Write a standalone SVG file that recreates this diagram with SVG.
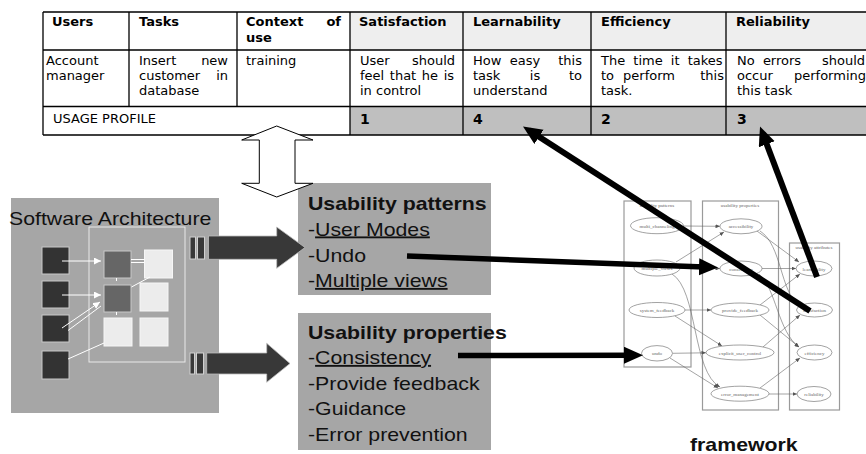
<svg xmlns="http://www.w3.org/2000/svg" width="866" height="454" viewBox="0 0 866 454">
<defs>
<style>
.t{font-family:"DejaVu Sans",Verdana,sans-serif;font-size:13px;fill:#000}
.tb{font-family:"DejaVu Sans",Verdana,sans-serif;font-size:13px;font-weight:bold;fill:#000}
.num{font-family:"DejaVu Sans",Verdana,sans-serif;font-size:14px;font-weight:bold;fill:#000}
.tl{stroke:#000;stroke-width:1.3;fill:none}
.big{font-family:"Liberation Sans",Arial,sans-serif;font-size:18.6px;fill:#111}
.bigb{font-family:"Liberation Sans",Arial,sans-serif;font-size:18.6px;font-weight:bold;fill:#111}
.gbox{fill:#a6a6a6}
.dk{fill:#333;stroke:#c8c8c8;stroke-width:1}
.md{fill:#666;stroke:#c8c8c8;stroke-width:1}
.lt{fill:#ececec;stroke:#f6f6f6;stroke-width:1}
.wl{stroke:#fff;stroke-width:1;fill:none}
.bar{fill:#383838;stroke:#d0d0d0;stroke-width:1}
.fat{fill:#383838;stroke:#bdbdbd;stroke-width:0.8}
.blk{stroke:#000;fill:none}
.cl{fill:#fff;stroke:#9a9a9a;stroke-width:1.2}
.nd{fill:#fff;stroke:#7a7a7a;stroke-width:0.7}
.ed{stroke:#666;stroke-width:0.6;fill:none}
.nt{font-family:"Liberation Serif","Times New Roman",serif;font-size:5px;fill:#666;text-anchor:middle}
</style>
<marker id="ah" markerUnits="userSpaceOnUse" markerWidth="20" markerHeight="18" refX="12" refY="8.5" orient="auto">
<path d="M0,0 L19,8.5 L0,17 z" fill="#000"/>
</marker>
<marker id="wa" markerUnits="userSpaceOnUse" markerWidth="8" markerHeight="8" refX="7" refY="3.5" orient="auto">
<path d="M0,0 L7,3.5 L0,7 z" fill="#fff"/>
</marker>
<marker id="ga" markerUnits="userSpaceOnUse" markerWidth="5" markerHeight="4" refX="4.5" refY="2" orient="auto">
<path d="M0,0 L4.5,2 L0,4 z" fill="#555"/>
</marker>
</defs>
<rect width="866" height="454" fill="#fff"/>

<g id="usage-table">
<rect x="350" y="12" width="520" height="38" fill="#eeeeee"/>
<rect x="350" y="106.5" width="520" height="28.5" fill="#bfbfbf"/>
<path class="tl" d="M43,12 H870 M43,50 H870 M43,106.5 H870 M43,135 H870 M43,12 V135 M129,12 V106.5 M237,12 V106.5 M350,12 V135 M463,12 V135 M591,12 V135 M726,12 V135"/>
<text class="tb" x="52" y="26">Users</text>
<text class="tb" x="139" y="26">Tasks</text>
<text class="tb" x="246" y="26">Context</text>
<text class="tb" x="341" y="26" text-anchor="end">of</text>
<text class="tb" x="246" y="41.5">use</text>
<text class="tb" x="359" y="26">Satisfaction</text>
<text class="tb" x="473" y="26">Learnability</text>
<text class="tb" x="601" y="26">Efficiency</text>
<text class="tb" x="736" y="26">Reliability</text>

<text class="t" x="46" y="65">Account</text>
<text class="t" x="46" y="80">manager</text>
<text class="t" x="139" y="65">Insert</text>
<text class="t" x="228" y="65" text-anchor="end">new</text>
<text class="t" x="139" y="80">customer</text>
<text class="t" x="228" y="80" text-anchor="end">in</text>
<text class="t" x="139" y="95">database</text>
<text class="t" x="246" y="65">training</text>
<text class="t" x="360" y="65">User</text>
<text class="t" x="455" y="65" text-anchor="end">should</text>
<text class="t" x="360" y="80" word-spacing="1.5">feel that he is</text>
<text class="t" x="360" y="95">in control</text>
<text class="t" x="473" y="65">How</text>
<text class="t" x="525" y="65" text-anchor="middle">easy</text>
<text class="t" x="582" y="65" text-anchor="end">this</text>
<text class="t" x="473" y="80">task</text>
<text class="t" x="535" y="80" text-anchor="middle">is</text>
<text class="t" x="582" y="80" text-anchor="end">to</text>
<text class="t" x="473" y="95">understand</text>
<text class="t" x="601" y="65" word-spacing="4">The time it takes</text>
<text class="t" x="601" y="80">to</text>
<text class="t" x="649" y="80" text-anchor="middle">perform</text>
<text class="t" x="724" y="80" text-anchor="end">this</text>
<text class="t" x="601" y="95">task.</text>
<text class="t" x="737" y="65">No</text>
<text class="t" x="782" y="65" text-anchor="middle">errors</text>
<text class="t" x="865" y="65" text-anchor="end">should</text>
<text class="t" x="737" y="80">occur</text>
<text class="t" x="866" y="80" text-anchor="end">performing</text>
<text class="t" x="737" y="95">this task</text>

<text class="t" x="53" y="123">USAGE PROFILE</text>
<text class="num" x="360" y="124">1</text>
<text class="num" x="473" y="124">4</text>
<text class="num" x="601" y="124">2</text>
<text class="num" x="737" y="124">3</text>
</g>

<g id="software-architecture">
<rect class="gbox" x="11" y="198" width="208" height="215"/>
<text class="big" transform="translate(9 225) scale(1.145 1)">Software Architecture</text>
<rect x="89" y="227" width="96" height="135" fill="none" stroke="#e8e8e8" stroke-width="1"/>
<rect class="dk" x="42" y="247" width="27" height="27"/>
<rect class="dk" x="42" y="281" width="27" height="27"/>
<rect class="dk" x="42" y="315" width="27" height="27"/>
<rect class="dk" x="42" y="351" width="27" height="28"/>
<rect class="md" x="104" y="251" width="27" height="27"/>
<rect class="md" x="104" y="285" width="27" height="27"/>
<rect class="lt" x="144.5" y="250" width="28" height="28"/>
<rect class="lt" x="140" y="283" width="28" height="28"/>
<rect class="lt" x="104" y="318" width="28" height="28"/>
<rect class="lt" x="140" y="318" width="28" height="28"/>
<line class="wl" x1="62" y1="261" x2="101" y2="261" marker-end="url(#wa)"/>
<line class="wl" x1="62" y1="295" x2="101" y2="295" marker-end="url(#wa)"/>
<line class="wl" x1="62" y1="328" x2="100" y2="302" marker-end="url(#wa)"/>
<line class="wl" x1="68" y1="330.5" x2="101" y2="306"/>
<line class="wl" x1="68" y1="359" x2="104" y2="343"/>
<line class="wl" x1="131" y1="259.5" x2="144.5" y2="259.5"/>
<line class="wl" x1="131" y1="262.5" x2="144.5" y2="262.5"/>
<line class="wl" x1="131.5" y1="287" x2="150" y2="277"/>
<line class="wl" x1="116.5" y1="278" x2="116.5" y2="281"/>
<line class="wl" x1="116.5" y1="312" x2="116.5" y2="315"/>
</g>

<g id="usability-patterns">
<rect class="gbox" x="298" y="183" width="193" height="112"/>
<text class="bigb" transform="translate(308 209.5) scale(1.145 1)">Usability patterns</text>
<text class="big" transform="translate(308 235.5) scale(1.145 1)">-<tspan text-decoration="underline">User Modes</tspan></text>
<text class="big" transform="translate(308 261.5) scale(1.145 1)">-Undo</text>
<text class="big" transform="translate(308 287) scale(1.145 1)">-<tspan text-decoration="underline">Multiple views</tspan></text>
</g>

<g id="usability-properties">
<rect class="gbox" x="298" y="313" width="193" height="137"/>
<text class="bigb" transform="translate(308 338.5) scale(1.145 1)">Usability properties</text>
<text class="big" transform="translate(308 364) scale(1.145 1)">-<tspan text-decoration="underline">Consistency</tspan></text>
<text class="big" transform="translate(308 389.5) scale(1.145 1)">-Provide feedback</text>
<text class="big" transform="translate(308 415) scale(1.145 1)">-Guidance</text>
<text class="big" transform="translate(308 440.5) scale(1.145 1)">-Error prevention</text>
</g>

<g id="framework">
<rect class="cl" x="624" y="201" width="67" height="166"/>
<rect class="cl" x="702.5" y="201" width="76" height="209"/>
<rect class="cl" x="789.5" y="243" width="50" height="167"/>
<text class="nt" x="657" y="207">usability patterns</text>
<text class="nt" x="740" y="207">usability properties</text>
<text class="nt" x="814" y="249">usability attributes</text>
<g id="fw-edges">
<line class="ed" x1="683.5" y1="226" x2="720" y2="226.3" marker-end="url(#ga)"/>
<line class="ed" x1="676" y1="262" x2="724" y2="232" marker-end="url(#ga)"/>
<line class="ed" x1="680" y1="268" x2="720" y2="268.5" marker-end="url(#ga)"/>
<path class="ed" d="M672,274 C698,290 692,372 720,387" marker-end="url(#ga)"/>
<line class="ed" x1="685" y1="310" x2="711" y2="310" marker-end="url(#ga)"/>
<line class="ed" x1="675" y1="316" x2="722" y2="346" marker-end="url(#ga)"/>
<line class="ed" x1="672.5" y1="353.3" x2="706" y2="352.8" marker-end="url(#ga)"/>
<line class="ed" x1="670" y1="358" x2="718" y2="388" marker-end="url(#ga)"/>
<line class="ed" x1="757" y1="231" x2="799" y2="262" marker-end="url(#ga)"/>
<path class="ed" d="M760,231 C782,245 780,292 799,305" marker-end="url(#ga)"/>
<line class="ed" x1="762" y1="268.5" x2="796" y2="268.5" marker-end="url(#ga)"/>
<path class="ed" d="M759,274 C776,288 778,332 799,347" marker-end="url(#ga)"/>
<line class="ed" x1="760" y1="305" x2="800" y2="274" marker-end="url(#ga)"/>
<line class="ed" x1="760" y1="315" x2="799" y2="347" marker-end="url(#ga)"/>
<line class="ed" x1="763" y1="347" x2="800" y2="315" marker-end="url(#ga)"/>
<line class="ed" x1="760" y1="388" x2="800" y2="358" marker-end="url(#ga)"/>
<line class="ed" x1="769" y1="394" x2="797" y2="394" marker-end="url(#ga)"/>
</g>
<g id="fw-nodes">
<ellipse class="nd" cx="657" cy="225.7" rx="26.5" ry="8"/><text class="nt" x="657" y="227.5">multi_channeling</text>
<ellipse class="nd" cx="657" cy="268" rx="23" ry="8"/><text class="nt" x="657" y="270">multiple_views</text>
<ellipse class="nd" cx="657" cy="310" rx="28" ry="7.5"/><text class="nt" x="657" y="312">system_feedback</text>
<ellipse class="nd" cx="657" cy="353.3" rx="15.5" ry="7.7"/><text class="nt" x="657" y="355">undo</text>
<ellipse class="nd" cx="741" cy="226.3" rx="21" ry="7.5"/><text class="nt" x="741" y="228">accessibility</text>
<ellipse class="nd" cx="741" cy="268.5" rx="21" ry="7.5"/><text class="nt" x="741" y="270.5">consistency</text>
<ellipse class="nd" cx="740" cy="310" rx="29" ry="7"/><text class="nt" x="740" y="312">provide_feedback</text>
<ellipse class="nd" cx="740" cy="352.5" rx="34" ry="7.5"/><text class="nt" x="740" y="354.5">explicit_user_control</text>
<ellipse class="nd" cx="740" cy="393.7" rx="29" ry="7.5"/><text class="nt" x="740" y="395.5">error_management</text>
<ellipse class="nd" cx="814" cy="268.5" rx="18" ry="7.5"/><text class="nt" x="814" y="270.5">learnability</text>
<ellipse class="nd" cx="814.5" cy="310" rx="18" ry="7"/><text class="nt" x="814.5" y="312">satisfaction</text>
<ellipse class="nd" cx="814.5" cy="352.5" rx="17.5" ry="7.5"/><text class="nt" x="814.5" y="354.5">efficiency</text>
<ellipse class="nd" cx="814" cy="394" rx="17" ry="7.5"/><text class="nt" x="814" y="396">reliability</text>
</g>
<text class="bigb" transform="translate(690 451) scale(1.145 1)">framework</text>
</g>

<g id="connectors">
<polygon points="276.7,126 313,140 295,140 295,183.3 313,183.3 276.7,197 241.7,183.3 259.3,183.3 259.3,140 241.7,140" fill="#fff" stroke="#000" stroke-width="1"/>
<rect class="bar" x="190" y="237" width="5.5" height="22"/>
<rect class="bar" x="197.5" y="237" width="7" height="22"/>
<polygon class="fat" points="208.5,236 276.7,236 276.7,227 305,247.5 276.7,268.3 276.7,259.3 208.5,259.3"/>
<rect class="bar" x="190" y="353" width="4.5" height="21"/>
<rect class="bar" x="196.5" y="353" width="7" height="21"/>
<polygon class="fat" points="206.7,353 266.7,353 266.7,343.3 290,363.5 266.7,382.3 266.7,374 206.7,374"/>
<line class="blk" stroke-width="5.5" x1="407" y1="256" x2="711" y2="267.2" marker-end="url(#ah)"/>
<line class="blk" stroke-width="5.5" x1="458" y1="355.5" x2="636" y2="355.2" marker-end="url(#ah)"/>
<line class="blk" stroke-width="6" x1="810" y1="311" x2="528.9" y2="130.3" marker-end="url(#ah)"/>
<line class="blk" stroke-width="6" x1="817" y1="277" x2="762.5" y2="133" marker-end="url(#ah)"/>
</g>
</svg>
